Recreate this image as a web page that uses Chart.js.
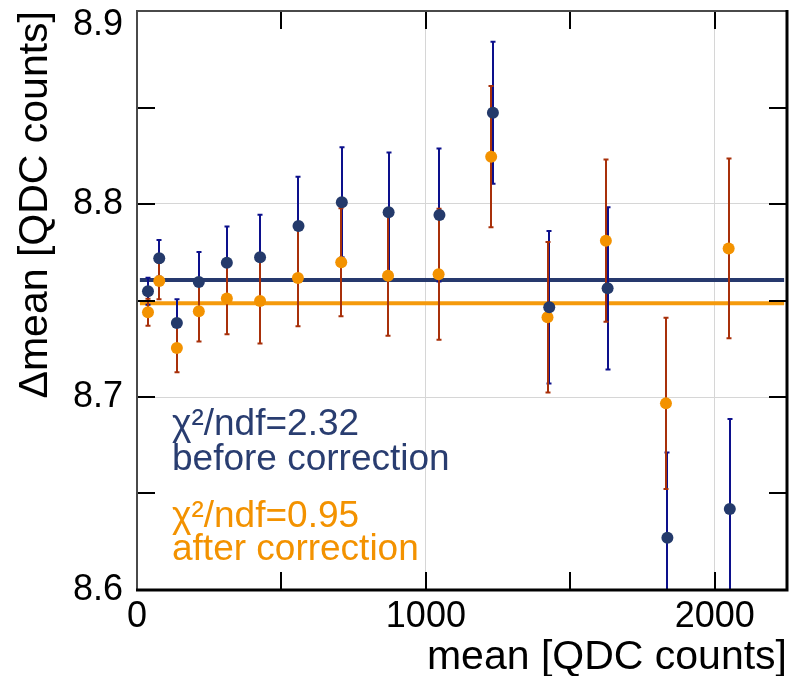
<!DOCTYPE html>
<html>
<head>
<meta charset="utf-8">
<script src="https://cdn.jsdelivr.net/npm/chart.js@4.4.1/dist/chart.umd.min.js"></script>
<style>
    html, body { margin: 0; padding: 0; background: #fff; }
    #wrap { width: 798px; height: 676px; }
</style>
</head>
<body>
<div id="wrap"><canvas id="chart" width="798" height="676"></canvas></div>
<script>
// Values
const xBefore   = [38, 77, 138, 214, 311, 426, 559, 709, 871, 1047, 1232, 1427, 1629, 1836, 2052];
const yBefore   = [8.7548, 8.7719, 8.7383, 8.7596, 8.7696, 8.7724, 8.7886, 8.8009, 8.7957, 8.7943, 8.8473, 8.7465, 8.7563, 8.6271, 8.6420];
const errBefore = [0.0070, 0.0094, 0.0123, 0.0155, 0.0187, 0.0220, 0.0255, 0.0285, 0.0310, 0.0344, 0.0368, 0.0395, 0.0420, 0.0442, 0.0466];

const xAfter    = [38, 77, 138, 214, 311, 426, 557, 707, 869, 1044, 1226, 1421, 1623, 1831, 2048];
const yAfter    = [8.7439, 8.7601, 8.7254, 8.7444, 8.7511, 8.7497, 8.7617, 8.7698, 8.7628, 8.7636, 8.8245, 8.7413, 8.7810, 8.6967, 8.7770];
const errAfter  = [0.0070, 0.0095, 0.0126, 0.0157, 0.0186, 0.0220, 0.0250, 0.0280, 0.0310, 0.0340, 0.0366, 0.0390, 0.0420, 0.0444, 0.0466];

// Constant fits
const fitRange  = [10, 2240];
const fitBefore = 8.7606;
const fitAfter  = 8.7486;
const chiBefore = 2.32;
const chiAfter  = 0.95;

// Axis ticks
const xTicks     = [0, 1000, 2000];
const yTicks     = [8.6, 8.7, 8.8, 8.9];
const xTickMarks = [500, 1000, 1500, 2000];
const yTickMarks = [8.65, 8.7, 8.75, 8.8, 8.85];

const FONT = "'Liberation Sans', Arial, Helvetica, sans-serif";
const COLORS = {
    blueMarker: '#243a6b',
    blueBar: '#0c108c',
    blueFit: '#26396d',
    blueText: '#293d70',
    orangeMarker: '#f39200',
    orangeBar: '#a8300a',
    orangeFit: '#f59a0c',
    orangeText: '#f39200',
    grid: '#d6d6d6'
};

const toPoints = (xs, ys) => xs.map((x, i) => ({ x: x, y: ys[i] }));

// Error bars, drawn under the markers
function drawBars(ctx, scales, xs, ys, errs, color) {
    ctx.strokeStyle = color;
    ctx.lineWidth = 2;
    xs.forEach((x, i) => {
        const px = Math.round(scales.x.getPixelForValue(x));
        const top = scales.y.getPixelForValue(ys[i] + errs[i]);
        const bot = scales.y.getPixelForValue(ys[i] - errs[i]);
        ctx.beginPath();
        ctx.moveTo(px, top); ctx.lineTo(px, bot);
        ctx.moveTo(px - 2.5, top); ctx.lineTo(px + 2.5, top);
        ctx.moveTo(px - 2.5, bot); ctx.lineTo(px + 2.5, bot);
        ctx.stroke();
    });
}

const errorBarPlugin = {
    id: 'errorBars',
    beforeDatasetDraw(chart, args) {
        if (args.index !== 3) return;
        const { ctx, chartArea: a, scales } = chart;
        ctx.save();
        ctx.beginPath();
        ctx.rect(a.left, a.top, a.right - a.left, a.bottom - a.top);
        ctx.clip();
        drawBars(ctx, scales, xBefore, yBefore, errBefore, COLORS.blueBar);
        drawBars(ctx, scales, xAfter, yAfter, errAfter, COLORS.orangeBar);
        ctx.restore();
    }
};

// Frame, inward ticks and fit labels
const framePlugin = {
    id: 'frame',
    afterDatasetsDraw(chart) {
        const { ctx, chartArea: a, scales } = chart;
        const len = 18;
        ctx.save();

        ctx.strokeStyle = '#000';
        ctx.lineWidth = 2;
        ctx.beginPath();
        xTickMarks.forEach(v => {
            const px = Math.round(scales.x.getPixelForValue(v));
            ctx.moveTo(px, a.bottom); ctx.lineTo(px, a.bottom - len);
            ctx.moveTo(px, a.top); ctx.lineTo(px, a.top + len);
        });
        yTickMarks.forEach(v => {
            const py = Math.round(scales.y.getPixelForValue(v));
            ctx.moveTo(a.left, py); ctx.lineTo(a.left + len, py);
            ctx.moveTo(a.right, py); ctx.lineTo(a.right - len, py);
        });
        ctx.stroke();

        ctx.strokeStyle = '#4a4a4a';
        ctx.lineWidth = 2;
        ctx.beginPath();
        ctx.moveTo(a.left, a.bottom); ctx.lineTo(a.left, a.top); ctx.lineTo(a.right, a.top);
        ctx.stroke();

        ctx.strokeStyle = '#000';
        ctx.lineWidth = 3;
        ctx.beginPath();
        ctx.moveTo(a.left - 1, a.bottom); ctx.lineTo(a.right, a.bottom); ctx.lineTo(a.right, a.top - 1);
        ctx.stroke();

        ctx.font = '37px ' + FONT;
        ctx.textAlign = 'left';
        ctx.textBaseline = 'alphabetic';
        const tx = a.left + 35;
        ctx.fillStyle = COLORS.blueText;
        ctx.fillText('\u03c7\u00b2/ndf=' + chiBefore.toFixed(2), tx, a.top + 424);
        ctx.fillText('before correction', tx, a.top + 459);
        ctx.fillStyle = COLORS.orangeText;
        ctx.fillText('\u03c7\u00b2/ndf=' + chiAfter.toFixed(2), tx, a.top + 516);
        ctx.fillText('after correction', tx, a.top + 549);
        ctx.restore();
    }
};

const ctx = document.getElementById('chart').getContext('2d');
new Chart(ctx, {
    type: 'scatter',
    data: {
        datasets: [
            {
                type: 'line',
                data: toPoints(fitRange, [fitBefore, fitBefore]),
                borderColor: COLORS.blueFit,
                borderWidth: 4,
                pointRadius: 0,
                order: 5
            },
            {
                type: 'line',
                data: toPoints(fitRange, [fitAfter, fitAfter]),
                borderColor: COLORS.orangeFit,
                borderWidth: 4,
                pointRadius: 0,
                order: 4
            },
            {
                data: toPoints(xBefore, yBefore),
                backgroundColor: COLORS.blueMarker,
                borderWidth: 0,
                pointRadius: 6,
                order: 1
            },
            {
                data: toPoints(xAfter, yAfter),
                backgroundColor: COLORS.orangeMarker,
                borderWidth: 0,
                pointRadius: 6,
                order: 2
            }
        ]
    },
    options: {
        responsive: false,
        animation: false,
        layout: { padding: { top: 11, right: 11, left: 0, bottom: 0 } },
        plugins: {
            legend: { display: false },
            tooltip: { enabled: false }
        },
        scales: {
            x: {
                type: 'linear',
                position: 'bottom',
                min: 0,
                max: 2250,
                afterBuildTicks: s => { s.ticks = xTicks.map(v => ({ value: v })); },
                afterFit: s => { s.height = 86; s.paddingLeft = 0; s.paddingRight = 0; },
                grid: { color: COLORS.grid, lineWidth: 1, drawTicks: false },
                border: { display: false },
                ticks: {
                    padding: 5,
                    color: '#000',
                    maxRotation: 0,
                    autoSkip: false,
                    font: { family: FONT, size: 36 },
                    callback: v => String(v)
                },
                title: {
                    display: true,
                    text: 'mean [QDC counts]',
                    align: 'end',
                    color: '#000',
                    font: { family: FONT, size: 41 },
                    padding: { top: 0, bottom: -6 }
                }
            },
            y: {
                type: 'linear',
                position: 'left',
                min: 8.6,
                max: 8.9,
                afterBuildTicks: s => { s.ticks = yTicks.map(v => ({ value: v })); },
                afterFit: s => { s.width = 137; s.paddingTop = 0; s.paddingBottom = 0; },
                grid: { color: COLORS.grid, lineWidth: 1, drawTicks: false },
                border: { display: false },
                ticks: {
                    padding: 14,
                    color: '#000',
                    autoSkip: false,
                    // top label sits a little lower, as in the original
                    font: c => ({
                        family: FONT,
                        size: 36,
                        lineHeight: c.tick && c.tick.value === yTicks[yTicks.length - 1] ? 0.78 : 1.2
                    }),
                    callback: v => v === yTicks[yTicks.length - 1] ? ['', v.toFixed(1)] : v.toFixed(1)
                },
                title: {
                    display: true,
                    text: '\u0394mean [QDC counts]',
                    align: 'end',
                    color: '#000',
                    font: { family: FONT, size: 41 },
                    padding: { top: 11, bottom: 0 }
                }
            }
        }
    },
    plugins: [errorBarPlugin, framePlugin]
});
</script>
</body>
</html>
